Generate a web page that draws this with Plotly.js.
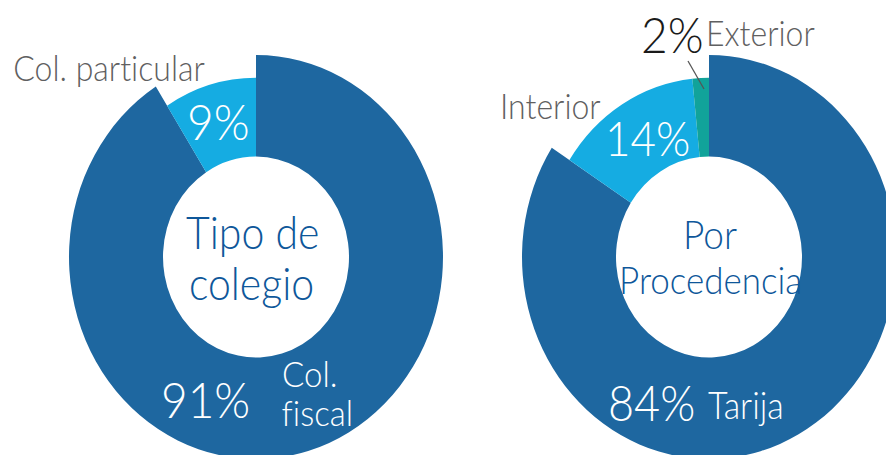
<!DOCTYPE html>
<html>
<head>
<meta charset="utf-8">
<script src="https://cdn.plot.ly/plotly-3.0.1.min.js"></script>
<style>
  html, body { margin: 0; padding: 0; width: 886px; height: 455px; overflow: hidden; background: #fff; }
  #chart { width: 900px; height: 430px; transform: scale(1, 1.08); transform-origin: 0 0; }
  #chart text { font-variant-ligatures: none; font-feature-settings: "liga" 0; }
</style>
</head>
<body>
<div id="chart"></div>
<script>
// ---- data ----
const colegioLabels = ["Col. fiscal", "Col. particular"];
const colegioValues = [91, 9];
const procLabels = ["Tarija", "Interior", "Exterior"];
const procValues = [84.1, 14.3, 1.6];
const centerTitles = ["Tipo de colegio", "Por Procedencia"];

// ---- styles ----
const DARK = "#1e67a0", LIGHT = "#15ace2", TEAL = "#11a39a", NONE = "rgba(0,0,0,0)";
const GRAY = "#5f6061", CTEXT = "#0e579a";
const FONT = "Lato, 'Open Sans', sans-serif";
const WEIGHT = 300;
const W = 900, H = 430, SY = 1.08;
// convert an image position (px) to paper coords in the pre-scaled frame
function P(x, y) { return [x / W, 1 - (y / SY) / H]; }
function dom(cx, cy, r) {
  return { x: [(cx - r) / W, (cx + r) / W], y: [1 - (cy + r) / H, 1 - (cy - r) / H] };
}
const CY = 238, RBIG = 187, RSMALL = 166, RHOLE = 93;

function pct(v, arr) { return Math.round(100 * v / arr.reduce((a, b) => a + b, 0)) + "%"; }

const base = { type: "pie", sort: false, direction: "clockwise", rotation: 0,
  textinfo: "none", hoverinfo: "label+percent", showlegend: false };

const traces = [
  Object.assign({}, base, { labels: colegioLabels, values: colegioValues, domain: dom(256, CY, RBIG),
    hole: RHOLE / RBIG, marker: { colors: [DARK, NONE], line: { width: 0 } } }),
  Object.assign({}, base, { labels: colegioLabels, values: colegioValues, domain: dom(256, CY, RSMALL),
    hole: RHOLE / RSMALL, marker: { colors: [NONE, LIGHT], line: { width: 0 } } }),
  Object.assign({}, base, { labels: procLabels, values: procValues, domain: dom(709, CY, RBIG),
    hole: RHOLE / RBIG, marker: { colors: [DARK, NONE, NONE], line: { width: 0 } } }),
  Object.assign({}, base, { labels: procLabels, values: procValues, domain: dom(709, CY, RSMALL),
    hole: RHOLE / RSMALL, marker: { colors: [NONE, LIGHT, TEAL], line: { width: 0 } } })
];

function ann(text, x, y, size, color, xanchor, weight) {
  const p = P(x, y);
  return { text: text, x: p[0], y: p[1], xref: "paper", yref: "paper", showarrow: false,
    xanchor: xanchor || "center", yanchor: "middle",
    font: { family: FONT, size: size, color: color, weight: weight || WEIGHT } };
}
const t1 = centerTitles[0].split(" "), t2 = centerTitles[1].split(" ");
const fiscal = colegioLabels[0].split(" ");

const annotations = [
  ann(colegioLabels[1], 109, 68, 32, GRAY),
  ann(pct(colegioValues[1], colegioValues), 218, 121, 46, "#fff"),
  ann(t1[0] + " " + t1[1], 252, 233, 41, CTEXT),
  ann(t1[2], 251, 283, 41, CTEXT),
  ann(pct(colegioValues[0], colegioValues), 205, 399, 46, "#fff"),
  ann(fiscal[0], 280, 373, 33, "#fff", "left"),
  ann(fiscal[1], 280, 412, 33, "#fff", "left"),
  ann(pct(procValues[2], procValues), 672, 34, 46, "#1a1a1a"),
  ann(procLabels[2], 760, 33, 32, GRAY),
  ann(procLabels[1], 550, 105, 32, GRAY),
  ann(pct(procValues[1], procValues), 647, 137, 44, "#fff"),
  ann(t2[0], 710, 234, 37, CTEXT),
  ann(t2[1], 710, 279, 35, CTEXT),
  ann(pct(procValues[0], procValues), 651, 403, 45, "#fff"),
  ann(procLabels[0], 746, 404, 34, "#fff")
];

const a = P(688, 61), b = P(704, 89);
const layout = {
  width: W, height: H,
  margin: { l: 0, r: 0, t: 0, b: 0 },
  paper_bgcolor: "#fff",
  annotations: annotations,
  shapes: [{ type: "line", xref: "paper", yref: "paper", x0: a[0], y0: a[1], x1: b[0], y1: b[1],
    line: { color: "#555", width: 1.3 } }]
};

Plotly.newPlot("chart", traces, layout, { displayModeBar: false, staticPlot: true });
</script>
</body>
</html>
